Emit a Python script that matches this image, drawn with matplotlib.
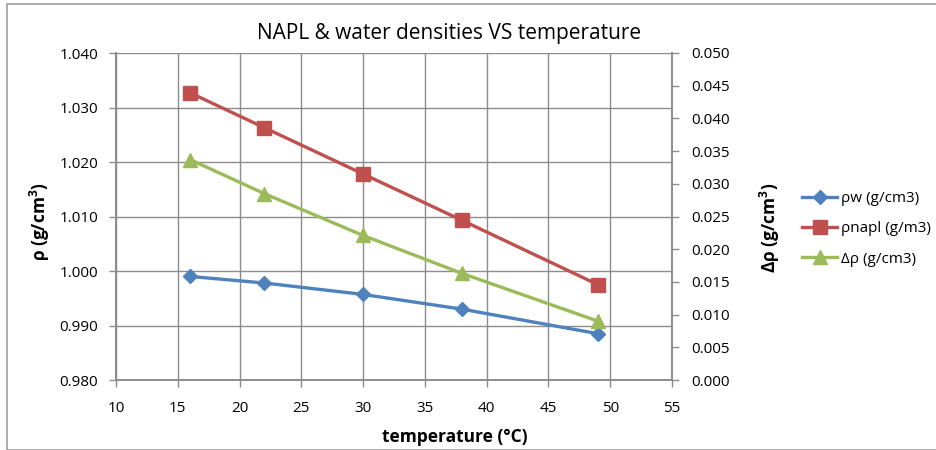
import matplotlib.pyplot as plt
from matplotlib.patches import Rectangle

plt.rcParams['font.family'] = ['Open Sans', 'DejaVu Sans']
plt.rcParams['mathtext.fontset'] = 'custom'
plt.rcParams['mathtext.bf'] = 'Open Sans:bold'
plt.rcParams['mathtext.rm'] = 'Open Sans'

# temperatures (°C) and measured densities
temperature = [16, 22, 30, 38, 49]
rho_w = [0.9990, 0.9978, 0.9957, 0.9930, 0.9885]
rho_napl = [1.0327, 1.0263, 1.0178, 1.0093, 0.9975]
delta_rho = [0.0337, 0.0285, 0.0221, 0.0163, 0.0090]

x_ticks = [10, 15, 20, 25, 30, 35, 40, 45, 50, 55]
left_ticks = [0.980, 0.990, 1.000, 1.010, 1.020, 1.030, 1.040]
right_ticks = [0.000, 0.005, 0.010, 0.015, 0.020, 0.025, 0.030, 0.035, 0.040, 0.045, 0.050]

blue = '#4F81BD'
red = '#C0504D'
green = '#9BBB59'
grid_col = '#8C8C8C'

W, H = 936, 450
fig = plt.figure(figsize=(W / 100, H / 100), dpi=100)
fig.patches.append(Rectangle((7 / W, 0), 1, 1 - 4 / H, transform=fig.transFigure,
                             fill=False, edgecolor='#A0A0A0', linewidth=1.2))

ax = fig.add_axes([116 / W, 1 - 380 / H, (672 - 116) / W, (380 - 53) / H])
ax2 = ax.twinx()

ax.plot(temperature, rho_w, color=blue, lw=2.4, marker='D', ms=7.5, label='ρw (g/cm3)', zorder=4)
ax.plot(temperature, rho_napl, color=red, lw=2.4, marker='s', ms=10, label='ρnapl (g/m3)', zorder=4)
ax2.plot(temperature, delta_rho, color=green, lw=2.4, marker='^', ms=10, label='Δρ (g/cm3)', zorder=4)

ax.set_xlim(10, 55)
ax.set_ylim(0.980, 1.040)
ax2.set_ylim(0.000, 0.050)
ax.set_xticks(x_ticks)
ax.set_yticks(left_ticks)
ax2.set_yticks(right_ticks)
ax.set_yticklabels([f'{v:.3f}' for v in left_ticks])
ax2.set_yticklabels([f'{v:.3f}' for v in right_ticks])

ax.grid(True, color=grid_col, lw=1)
ax.set_axisbelow(True)
for a in (ax, ax2):
    for s in a.spines.values():
        s.set_color(grid_col)
        s.set_linewidth(1.2)
    a.tick_params(colors=grid_col, labelcolor='black', labelsize=11, length=5, width=1)
ax.spines['top'].set_visible(False)
ax2.spines['top'].set_visible(False)
ax.tick_params(axis='x', pad=10)
ax.tick_params(axis='y', pad=8)
ax2.tick_params(axis='y', pad=9)

fig.text(449 / W, 1 - 33 / H, 'NAPL & water densities VS temperature', fontsize=15,
         ha='center', va='center')
fig.text(455 / W, 1 - 437 / H, 'temperature (°C)', fontsize=12.5, fontweight='bold',
         ha='center', va='center')
fig.text(40 / W, 1 - 222 / H, r'ρ (g/cm$^{\mathbf{3}}$)', fontsize=12.5, fontweight='bold',
         rotation=90, ha='center', va='center')
fig.text(770 / W, 1 - 228 / H, r'Δρ (g/cm$^{\mathbf{3}}$)', fontsize=12.5, fontweight='bold',
         rotation=90, ha='center', va='center')

handles = ax.get_lines()[:2] + ax2.get_lines()[:1]
fig.legend(handles, [h.get_label() for h in handles], loc='center left',
           bbox_to_anchor=(796 / W, 1 - 229 / H), frameon=False, fontsize=11,
           handlelength=2.3, labelspacing=1.0, handletextpad=0.25, borderaxespad=0)

fig.savefig('out.png', dpi=100)
